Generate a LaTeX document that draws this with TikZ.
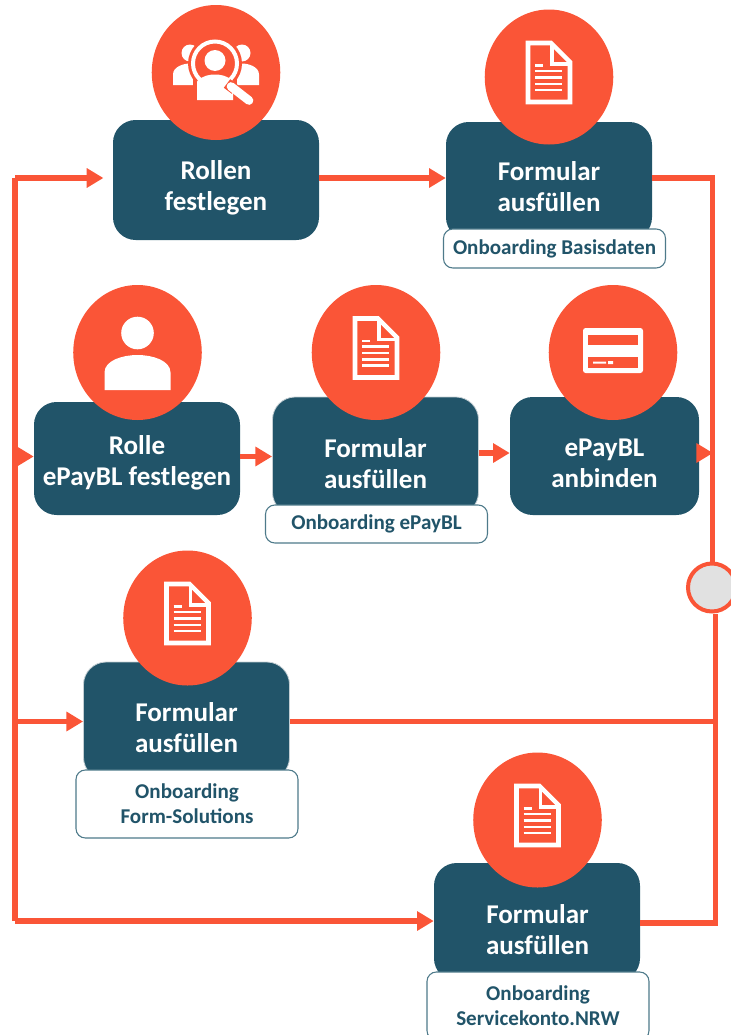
\documentclass[tikz,border=0pt]{standalone}
\usepackage{fontspec}
\setmainfont{Carlito}
\usetikzlibrary{arrows.meta,shapes.geometric}
\definecolor{teal}{HTML}{215469}
\definecolor{coral}{HTML}{FA5537}
\definecolor{rim}{HTML}{E1E1E1}
\definecolor{tagrim}{HTML}{4E7A8A}
\definecolor{halo}{HTML}{C3CED3}
\tikzset{
  x=0.75pt,y=-0.75pt,
  boxnode/.style={fill=teal,rounded corners=17pt,minimum width=154.5pt,minimum height=88.5pt,inner sep=0pt},
  disc/.style={ellipse,fill=coral,minimum width=96.4pt,minimum height=101.25pt,inner sep=0pt},
  boxtext/.style={text=white,font=\bfseries\fontsize{20.3}{23.25}\selectfont,align=center,inner sep=0pt},
  tagnode/.style={fill=white,draw=tagrim,line width=0.8pt,rounded corners=7pt,minimum width=166.5pt,text=teal,align=center,inner sep=0pt,font=\bfseries\fontsize{15.8}{18.75}\selectfont},
  flowline/.style={draw=coral,line width=4.4pt},
  flowarrow/.style={flowline,-{Triangle[length=12.5pt,width=14pt]}},
  docicon/.pic={
    \draw[white,line width=3.4pt,line join=miter] (-21,-34) -- (2,-34) -- (21,-15) -- (21,25) -- (-21,25) -- cycle;
    \draw[white,line width=2.6pt] (3,-34) -- (3,-13) -- (21,-13);
    \draw[white,line width=2.1pt] (-14,-11.5) -- (-6,-11.5) (-14,-6) -- (13,-6) (-14,0.5) -- (13,0.5) (-14,7) -- (13,7) (-14,13) -- (13,13);
  },
  personicon/.pic={
    \fill[white] (0,-19.5) circle[radius=16.3];
    \fill[white] (-33,37.5) -- (-33,20) .. controls (-33,8) and (-15,2.5) .. (0,2.5) .. controls (15,2.5) and (33,8) .. (33,20) -- (33,37.5) -- cycle;
  },
  cardicon/.pic={
    \fill[white,rounded corners=2pt] (-30,-24.5) rectangle (30,20.5);
    \fill[coral] (-25,-17.5) rectangle (25,-7.5);
    \fill[coral] (-25,4.5) rectangle (25,15.5);
    \fill[white] (-20,9) rectangle (-7,11) (-5,8.5) rectangle (0,11.5);
  },
  searchicon/.pic={
    \fill[white] (-26,-19.5) circle[radius=8.5] (26,-19.5) circle[radius=8.5];
    \fill[white] (-43,12.5) -- (-43,2) .. controls (-43,-6) and (-32,-9) .. (-26,-9) .. controls (-20,-9) and (-10,-6) .. (-10,2) -- (-10,12.5) -- cycle;
    \fill[white] (43,12.5) -- (43,2) .. controls (43,-6) and (32,-9) .. (26,-9) .. controls (20,-9) and (10,-6) .. (10,2) -- (10,12.5) -- cycle;
    \fill[coral] (-1,-9) circle[radius=27];
    \fill[coral] (-23,30) rectangle (21,5);
    \fill[white] (-1,-12) circle[radius=10.5];
    \fill[white] (-19,27.5) -- (-19,9) .. controls (-14,3) and (-6,2) .. (-1,2) .. controls (4,2) and (12,3) .. (17,9) -- (17,27.5) -- cycle;
    \draw[white,line width=3pt] (-1,-9) circle[radius=22];
    \draw[coral,line width=8pt] (11,11) -- (19,17);
    \draw[white,line width=6.5pt,line cap=round] (15,14) -- (33,28);
  },
}
\begin{document}
\begin{tikzpicture}
\useasboundingbox (0,0) rectangle (731,1035);
\coordinate (bustop) at (15,178);
\coordinate (busc) at (15,456.5);
\coordinate (busd) at (15,453);
\coordinate (busf) at (15,721.5);
\coordinate (busbot) at (15,921);
\coordinate (railtop) at (712.5,178);
\coordinate (raile) at (713,453);
\coordinate (railf) at (716,721.5);
\coordinate (railbot) at (715.5,923);

% boxes
\node[boxnode,minimum height=90pt] (a) at (216,180) {};
\node[boxnode] (b) at (549,181) {};
\node[boxnode,minimum height=84.75pt] (c) at (137,458.5) {};
\node[boxnode,draw=halo,line width=0.6pt] (d) at (375.5,456) {};
\node[boxnode,minimum width=141.75pt] (e) at (604.5,456) {};
\node[boxnode,draw=halo,line width=0.6pt] (f) at (186.5,721) {};
\node[boxnode] (g) at (537,922) {};
\node[circle,draw=coral,fill=rim,line width=3pt,minimum size=36pt,inner sep=0pt] (merge) at (712,587.5) {};

% connectors
\draw[flowline] (bustop) -- (busbot);
\draw[flowarrow,shorten >=7pt] (bustop) -- (bustop -| a.west);
\draw[flowarrow] (busc) -- (busc -| c.west);
\draw[flowarrow] (busf) -- (busf -| f.west);
\draw[flowarrow] (busbot) -- (busbot -| g.west);
\draw[flowarrow] (bustop -| a.east) -- (bustop -| b.west);
\draw[flowarrow] (busc -| c.east) -- (busc -| d.west);
\draw[flowarrow] (busd -| d.east) -- (busd -| e.west);
\draw[flowline] (bustop -| b.east) -- (railtop) -- (railtop |- merge.north);
\draw[flowarrow] (raile -| e.east) -- (raile);
\draw[flowline] (railf -| f.east) -- (railf);
\draw[flowline] (railbot -| g.east) -- (railbot) -- (railbot |- merge.south);

% discs
\node[disc] (da) at (216,72.5) {};
\node[disc] (db) at (549,77) {};
\node[disc] (dc) at (137.5,352.5) {};
\node[disc] (dd) at (376,352.5) {};
\node[disc] (de) at (613,352.5) {};
\node[disc] (df) at (187.5,618) {};
\node[disc] (dg) at (537.5,820) {};
\pic at (da) {searchicon};
\pic at (db) {docicon};
\pic at (dc) {personicon};
\pic at (dd) {docicon};
\pic at (de) {cardicon};
\pic at (df) {docicon};
\pic at (dg) {docicon};

% tags
\node[tagnode,minimum height=29.25pt] (tb) at (554.5,248.5) {Onboarding Basisdaten};
\node[tagnode,minimum height=28.5pt] (td) at (376.5,524) {Onboarding ePayBL};
\node[tagnode,minimum height=51pt] (tf) at (187,804) {Onboarding\\Form-Solutions};
\node[tagnode,minimum height=51pt] (tg) at (538,1006) {Onboarding\\Servicekonto.NRW};

% box texts
\node[boxtext] (ta) at (216,187.5) {Rollen\\festlegen};
\node[boxtext] (tbb) at (549,187) {Formular\\ausfüllen};
\node[boxtext] (tc) at (137,463) {Rolle\\ePayBL festlegen};
\node[boxtext] (tdd) at (375.5,463.5) {Formular\\ausfüllen};
\node[boxtext] (te) at (604.5,463.5) {ePayBL\\anbinden};
\node[boxtext] (tff) at (186.5,727.5) {Formular\\ausfüllen};
\node[boxtext] (tgg) at (537.5,930) {Formular\\ausfüllen};
\end{tikzpicture}
\end{document}
